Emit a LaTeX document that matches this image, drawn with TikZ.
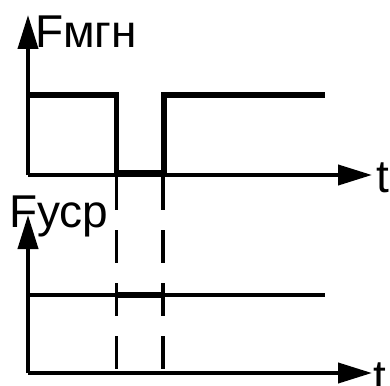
\documentclass[tikz,border=0pt]{standalone}
\usepackage{fontspec}
\setmainfont{Liberation Sans}
\usetikzlibrary{arrows.meta}
\begin{document}
\begin{tikzpicture}[x=1pt,y=-1pt,
  axis/.style={line width=4pt,-{Triangle[length=34pt,width=20pt]}},
  signal/.style={line width=5.5pt,line join=miter},
  dsh/.style={line width=3.2pt,dash pattern=on 33pt off 20pt},
  lbl/.style={inner sep=0pt,anchor=base west,font=\fontsize{46}{46}\selectfont}]
\useasboundingbox (0,0) rectangle (390,385);
% coordinates
\coordinate (o1) at (28,175);
\coordinate (y1) at (28,15);
\coordinate (x1) at (372,175);
\coordinate (o2) at (28,373);
\coordinate (y2) at (28,215);
\coordinate (x2) at (372,373);
% top axes
\draw[axis] (o1) -- (y1);
\draw[axis] (o1) -- (x1);
% bottom axes
\draw[axis] (o2) -- (y2);
\draw[axis] (o2) -- (x2);
% top signal
\draw[signal] (28,95) -- (116.5,95) -- (116.5,173) -- (164,173) -- (164,95) -- (325,95);
% bottom signal
\draw[line width=4pt] (28,295) -- (325,295);
\draw[line width=5.7pt] (116.5,295) -- (163,295);
% dashed lines
\draw[dsh] (116.5,177) -- (116.5,370);
\draw[dsh] (163,177) -- (163,370);
% labels
\node[lbl] (l1) at (35,48) {Fмгн};
\node[lbl] (l2) at (9,227) {Fуср};
\node[lbl] (t1) at (376,192) {t};
\node[lbl] (t2) at (373,392) {t};
\end{tikzpicture}
\end{document}
